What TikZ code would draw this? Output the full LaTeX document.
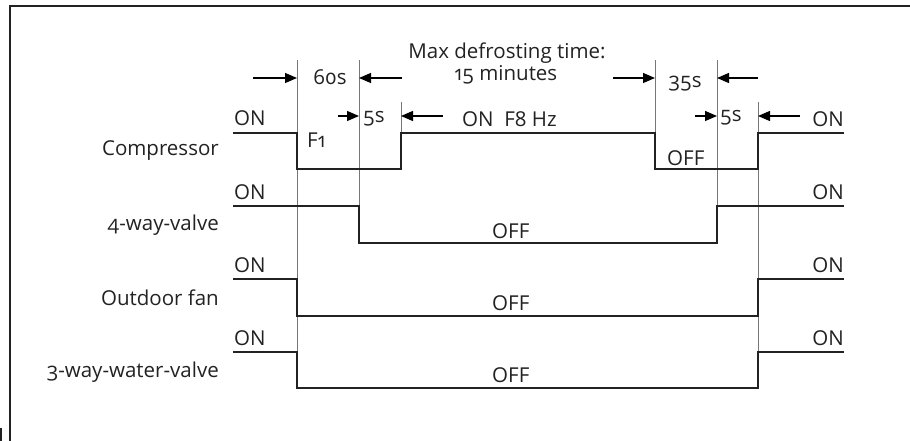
\documentclass[tikz,border=0pt]{standalone}
\usepackage{fontspec}
\setmainfont[Numbers=OldStyle]{Open Sans}
\usetikzlibrary{arrows.meta, positioning}
\definecolor{SigBlack}{HTML}{222222}
\definecolor{GuideGray}{HTML}{777777}

\begin{document}
\begin{tikzpicture}[x=1pt, y=-1pt,
  lbl/.style={font=\fontsize{20.5}{18}\selectfont, inner sep=0pt, text=SigBlack},
  sname/.style={lbl, anchor=base east},
  sig/.style={line width=1.9pt, color=SigBlack, line join=miter},
  guide/.style={line width=1pt, color=GuideGray},
  dim/.style={-{Triangle[length=12pt,width=10pt]}, line width=1.3pt, color=black}
]
\useasboundingbox (0,0) rectangle (910,441);

% frame
\draw[line width=2pt, SigBlack] (10,441) -- (10,6) -- (910,6);
\draw[line width=1.5pt, SigBlack] (1,428) -- (1,441);

% time marks
\coordinate (t0) at (297,60);
\coordinate (t1) at (359,60);
\coordinate (t2) at (401,102);
\coordinate (t3) at (655,60);
\coordinate (t4) at (717,60);
\coordinate (t5) at (758,102);

\draw[guide] (t0) -- (297,388);
\draw[guide] (t1) -- (359,243);
\draw[guide] (t2) -- (401,133);
\draw[guide] (t3) -- (655,133);
\draw[guide] (t4) -- (717,243);
\draw[guide] (t5) -- (758,388);

% signals
\draw[sig] (233,133) -- (297,133) -- (297,169) -- (401,169) -- (401,133)
  -- (655,133) -- (655,169) -- (758,169) -- (758,133) -- (844,133);
\draw[sig] (233,206) -- (359,206) -- (359,243) -- (717,243) -- (717,206) -- (844,206);
\draw[sig] (233,279) -- (297,279) -- (297,316) -- (758,316) -- (758,279) -- (844,279);
\draw[sig] (233,352) -- (297,352) -- (297,388) -- (758,388) -- (758,352) -- (844,352);

% dimension arrows
\coordinate (d60a) at (253,78);  \coordinate (d60b) at (402,78);
\coordinate (d5a)  at (338,116); \coordinate (d5b)  at (443,116);
\coordinate (d35a) at (613,78);  \coordinate (d35b) at (758,78);
\coordinate (d5c)  at (695,116); \coordinate (d5d)  at (800,116);
\draw[dim] (d60a) -- (297,78);
\draw[dim] (d60b) -- (359,78);
\draw[dim] (d5a) -- (359,116);
\draw[dim] (d5b) -- (401,116);
\draw[dim] (d35a) -- (655,78);
\draw[dim] (d35b) -- (717,78);
\draw[dim] (d5c) -- (717,116);
\draw[dim] (d5d) -- (758,116);

% timing labels
\node[lbl, anchor=base] (maxa) at (507,59) {Max defrosting time:};
\node[lbl, anchor=base] (maxb) at (506,81) {15 minutes};
\node[lbl, anchor=base] (s60) at (330,85) {60s};
\node[lbl, anchor=base] (s35) at (685,88) {35s};
\node[lbl, anchor=base west] (s5a) at (363,123) {5s};
\node[lbl, anchor=base west] (s5b) at (720,122) {5s};
\node[lbl, anchor=base west] (f1) at (307,147) {F1};
\node[lbl, anchor=base west] (onf8) at (462,127) {ON\ \ F8 Hz};
\node[lbl, anchor=base west] (coff) at (667,165) {OFF};

% signal names
\node[sname] (comp) at (219,155) {Compressor};
\node[sname] (fourway) at (219,230) {4-way-valve};
\node[sname] (fan) at (219,305) {Outdoor fan};
\node[sname] (threeway) at (219,377) {3-way-water-valve};

% ON / OFF states
\node[lbl, anchor=base west] (on1l) at (234,126) {ON};
\node[lbl, anchor=base west] (on2l) at (234,199) {ON};
\node[lbl, anchor=base west] (on3l) at (234,272) {ON};
\node[lbl, anchor=base west] (on4l) at (234,345) {ON};
\node[lbl, anchor=base east] (on1r) at (844,127) {ON};
\node[lbl, anchor=base east] (on2r) at (844,199) {ON};
\node[lbl, anchor=base east] (on3r) at (844,272) {ON};
\node[lbl, anchor=base east] (on4r) at (844,345) {ON};
\node[lbl, anchor=base west] (off2) at (492,238) {OFF};
\node[lbl, anchor=base west] (off3) at (492,310) {OFF};
\node[lbl, anchor=base west] (off4) at (492,382) {OFF};
\end{tikzpicture}
\end{document}
